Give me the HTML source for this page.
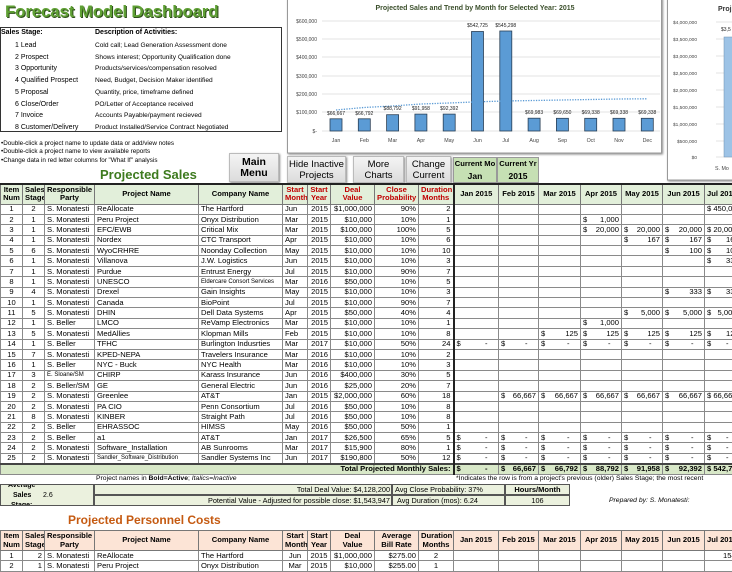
<!DOCTYPE html>
<html><head><meta charset="utf-8">
<style>
*{margin:0;padding:0;box-sizing:border-box}
body{width:732px;height:567px;overflow:hidden;background:#fff;position:relative;font-family:"Liberation Sans",sans-serif;color:#000}
.a{position:absolute;white-space:nowrap}
table{border-collapse:collapse;table-layout:fixed;position:absolute;font-size:7.6px}
td{border:1px solid #8a8a8a;padding:0 2px;overflow:hidden;white-space:nowrap;height:10.4px;line-height:8px}
td.c{text-align:center}td.r{text-align:right}
td u{float:left;text-decoration:none}
td.m{text-align:right}
tr.h td{background:#e2efda;font-weight:bold;text-align:center;height:20px;line-height:8.5px;border-color:#777}
tr.h td.red{color:#c00000}
.thick{border-right:2px solid #222!important}
.btn{position:absolute;background:linear-gradient(#f4f4f4,#dcdcdc);border:1px solid #bbb;box-shadow:1px 1px 2px #888;text-align:center;font-size:9.5px;line-height:11px;display:flex;align-items:center;justify-content:center;white-space:nowrap}
.sm{font-size:7px;line-height:8px}
</style></head><body>

<div class="a" style="left:5px;top:2px;font-size:17px;font-weight:bold;color:#5fa034;text-shadow:1px 1px 0 #2d4d1a;letter-spacing:-0.2px">Forecast Model Dashboard</div>

<div class="a" style="left:0;top:27px;width:282px;height:105px;border:1px solid #333"></div>
<div class="a sm" style="left:1px;top:29px;font-weight:bold">Sales Stage:</div>
<div class="a sm" style="left:95px;top:29px;font-weight:bold">Description of Activities:</div>
<div class="a sm" style="left:15px;top:40px;line-height:11.7px">1 Lead<br>2 Prospect<br>3 Opportunity<br>4 Qualified Prospect<br>5 Proposal<br>6 Close/Order<br>7 Invoice<br>8 Customer/Delivery</div>
<div class="a sm" style="left:95px;top:40px;line-height:11.7px;font-size:6.6px">Cold call; Lead Generation Assessment done<br>Shows interest; Opportunity Qualification done<br>Products/services/compensation resolved<br>Need, Budget, Decision Maker identified<br>Quantity, price, timeframe defined<br>PO/Letter of Acceptance received<br>Accounts Payable/payment recieved<br>Product Installed/Service Contract Negotiated</div>
<div class="a" style="left:1px;top:140px;font-size:6.3px;line-height:8.3px">•Double-click a project name to update data or add/view notes<br>•Double-click a project name to view available reports<br>•Change data in red letter columns for "What If" analysis</div>
<div class="a" style="left:100px;top:167px;font-size:13px;font-weight:bold;color:#3d7a1e">Projected Sales</div>

<div class="btn" style="left:229px;top:153px;width:50px;height:29px;font-weight:bold;font-size:10.5px">Main<br>Menu</div>
<div class="btn" style="left:287px;top:156px;width:59px;height:27px">Hide Inactive<br>Projects</div>
<div class="btn" style="left:353px;top:156px;width:51px;height:27px">More<br>Charts</div>
<div class="btn" style="left:406px;top:156px;width:45px;height:27px">Change<br>Current</div>
<div class="a" style="left:453px;top:157px;width:44px;height:26px;background:#c6e0b4;border:1px solid #999;text-align:center;font-weight:bold;font-size:7.6px;line-height:12px">Current Mo<br><span style="font-size:8.5px">Jan</span></div>
<div class="a" style="left:497px;top:157px;width:42px;height:26px;background:#c6e0b4;border:1px solid #999;text-align:center;font-weight:bold;font-size:7.6px;line-height:12px">Current Yr<br><span style="font-size:8.5px">2015</span></div>

<svg class="a" style="left:0;top:0" width="732" height="190" font-family="Liberation Sans, sans-serif">
<rect x="287.5" y="-2" width="374" height="155" fill="#fff" stroke="#999" style="filter:drop-shadow(1px 1px 1px #888)"/>
<text x="475" y="10" font-size="7" font-weight="bold" fill="#3b4f2b" text-anchor="middle">Projected Sales and Trend by Month for Selected Year: 2015</text>
<g stroke="#e3e3e3" stroke-width="1">
<line x1="322" x2="660" y1="21" y2="21"/><line x1="322" x2="660" y1="39" y2="39"/><line x1="322" x2="660" y1="57" y2="57"/><line x1="322" x2="660" y1="76" y2="76"/><line x1="322" x2="660" y1="94" y2="94"/><line x1="322" x2="660" y1="112" y2="112"/><line x1="322" x2="660" y1="131" y2="131"/></g>
<g font-size="5" fill="#444" text-anchor="end">
<text x="317" y="23">$600,000</text><text x="317" y="41">$500,000</text><text x="317" y="59">$400,000</text><text x="317" y="78">$300,000</text><text x="317" y="96">$200,000</text><text x="317" y="114">$100,000</text><text x="317" y="133">$-</text></g>
<g fill="#5b9bd5" stroke="#2a3f55" stroke-width="0.8">
<rect x="330" y="118.8" width="12" height="12.2"/><rect x="358.3" y="118.8" width="12" height="12.2"/><rect x="386.6" y="114.7" width="12" height="16.3"/><rect x="414.9" y="114.1" width="12" height="16.9"/><rect x="443.2" y="114.1" width="12" height="16.9"/><rect x="471.5" y="31.5" width="12" height="99.5"/><rect x="499.8" y="31" width="12" height="100"/><rect x="528.1" y="118.2" width="12" height="12.8"/><rect x="556.4" y="118.3" width="12" height="12.7"/><rect x="584.7" y="118.3" width="12" height="12.7"/><rect x="613" y="118.3" width="12" height="12.7"/><rect x="641.3" y="118.3" width="12" height="12.7"/></g>
<polyline points="336,110 364,107.5 392,106 421,104 449,103 478,101.8 506,101 534,100.5 562,100 591,99.5 619,99 647,98.8" fill="none" stroke="#5b9bd5" stroke-width="1.3" stroke-dasharray="1.3,1.3"/>
<g font-size="5" fill="#222" text-anchor="middle">
<text x="336" y="115">$66,667</text><text x="364.3" y="115">$66,792</text><text x="392.6" y="110">$88,792</text><text x="420.9" y="110">$91,958</text><text x="449.2" y="110">$92,392</text><text x="477.5" y="27">$542,725</text><text x="505.8" y="27">$545,298</text><text x="534.1" y="114">$69,983</text><text x="562.4" y="114">$69,650</text><text x="590.7" y="114">$69,338</text><text x="619" y="114">$69,338</text><text x="647.3" y="114">$69,338</text></g>
<g font-size="5.3" fill="#444" text-anchor="middle">
<text x="336" y="142">Jan</text><text x="364.3" y="142">Feb</text><text x="392.6" y="142">Mar</text><text x="420.9" y="142">Apr</text><text x="449.2" y="142">May</text><text x="477.5" y="142">Jun</text><text x="505.8" y="142">Jul</text><text x="534.1" y="142">Aug</text><text x="562.4" y="142">Sep</text><text x="590.7" y="142">Oct</text><text x="619" y="142">Nov</text><text x="647.3" y="142">Dec</text></g>

<rect x="667.5" y="-2" width="80" height="182" fill="#fff" stroke="#999" style="filter:drop-shadow(1px 1px 1px #888)"/>
<text x="718" y="11" font-size="7" font-weight="bold" fill="#333">Proj</text>
<g stroke="#e3e3e3"><line x1="716" x2="732" y1="22" y2="22"/><line x1="716" x2="732" y1="39" y2="39"/><line x1="716" x2="732" y1="56" y2="56"/><line x1="716" x2="732" y1="73" y2="73"/><line x1="716" x2="732" y1="90" y2="90"/><line x1="716" x2="732" y1="107" y2="107"/><line x1="716" x2="732" y1="124" y2="124"/><line x1="716" x2="732" y1="141" y2="141"/><line x1="716" x2="732" y1="157" y2="157"/></g>
<g font-size="4.8" fill="#444" text-anchor="end">
<text x="697" y="24">$4,000,000</text><text x="697" y="41">$3,500,000</text><text x="697" y="58">$3,000,000</text><text x="697" y="75">$2,500,000</text><text x="697" y="92">$2,000,000</text><text x="697" y="109">$1,500,000</text><text x="697" y="126">$1,000,000</text><text x="697" y="143">$500,000</text><text x="697" y="159">$0</text></g>
<rect x="724" y="37" width="12" height="120" fill="#9dc3e6" stroke="#6f8fb0" stroke-width="0.5"/>
<text x="721" y="31" font-size="5" fill="#222">$3,5</text>
<text x="715" y="170" font-size="5.3" fill="#444">S. Mo</text>
</svg>

<table style="left:0;top:183px;width:772px;border-top:2px solid #222">
<colgroup><col style="width:22px"><col style="width:22px"><col style="width:50px"><col style="width:104px"><col style="width:84px"><col style="width:25px"><col style="width:23px"><col style="width:44px"><col style="width:44px"><col style="width:35px"><col style="width:45px"><col style="width:40px"><col style="width:42px"><col style="width:41px"><col style="width:41px"><col style="width:42px"><col style="width:70px"></colgroup>
<tr class="h"><td>Item<br>Num</td><td>Sales<br>Stage</td><td>Responsible<br>Party</td><td>Project Name</td><td>Company Name</td><td class="red">Start<br>Month</td><td class="red">Start<br>Year</td><td class="red">Deal<br>Value</td><td class="red">Close<br>Probability</td><td class="red thick">Duration<br>Months</td><td>Jan 2015</td><td>Feb 2015</td><td>Mar 2015</td><td>Apr 2015</td><td>May 2015</td><td>Jun 2015</td><td style="text-align:left">Jul 2015</td></tr>
<tr><td class="c">1</td><td class="c">2</td><td>S. Monatesti</td><td>ReAllocate</td><td>The Hartford</td><td>Jun</td><td class="r">2015</td><td class="r">$1,000,000</td><td class="r">90%</td><td class="r thick">2</td><td></td><td></td><td></td><td></td><td></td><td></td><td>$ 450,000</td></tr>
<tr><td class="c">2</td><td class="c">1</td><td>S. Monatesti</td><td>Peru Project</td><td>Onyx Distribution</td><td>Mar</td><td class="r">2015</td><td class="r">$10,000</td><td class="r">10%</td><td class="r thick">1</td><td></td><td></td><td></td><td class="m"><u>$</u>1,000</td><td></td><td></td><td></td></tr>
<tr><td class="c">3</td><td class="c">1</td><td>S. Monatesti</td><td>EFC/EWB</td><td>Critical Mix</td><td>Mar</td><td class="r">2015</td><td class="r">$100,000</td><td class="r">100%</td><td class="r thick">5</td><td></td><td></td><td></td><td class="m"><u>$</u>20,000</td><td class="m"><u>$</u>20,000</td><td class="m"><u>$</u>20,000</td><td>$ 20,000</td></tr>
<tr><td class="c">4</td><td class="c">1</td><td>S. Monatesti</td><td>Nordex</td><td>CTC Transport</td><td>Apr</td><td class="r">2015</td><td class="r">$10,000</td><td class="r">10%</td><td class="r thick">6</td><td></td><td></td><td></td><td></td><td class="m"><u>$</u>167</td><td class="m"><u>$</u>167</td><td>$&nbsp;&nbsp;&nbsp;&nbsp;&nbsp;&nbsp;&nbsp;167</td></tr>
<tr><td class="c">5</td><td class="c">6</td><td>S. Monatesti</td><td>WyoCRHRE</td><td>Noonday Collection</td><td>May</td><td class="r">2015</td><td class="r">$10,000</td><td class="r">10%</td><td class="r thick">10</td><td></td><td></td><td></td><td></td><td></td><td class="m"><u>$</u>100</td><td>$&nbsp;&nbsp;&nbsp;&nbsp;&nbsp;&nbsp;&nbsp;100</td></tr>
<tr><td class="c">6</td><td class="c">1</td><td>S. Monatesti</td><td>Villanova</td><td>J.W. Logistics</td><td>Jun</td><td class="r">2015</td><td class="r">$10,000</td><td class="r">10%</td><td class="r thick">3</td><td></td><td></td><td></td><td></td><td></td><td></td><td>$&nbsp;&nbsp;&nbsp;&nbsp;&nbsp;&nbsp;&nbsp;333</td></tr>
<tr><td class="c">7</td><td class="c">1</td><td>S. Monatesti</td><td>Purdue</td><td>Entrust Energy</td><td>Jul</td><td class="r">2015</td><td class="r">$10,000</td><td class="r">90%</td><td class="r thick">7</td><td></td><td></td><td></td><td></td><td></td><td></td><td></td></tr>
<tr><td class="c">8</td><td class="c">1</td><td>S. Monatesti</td><td>UNESCO</td><td style="font-size:6px">Eldercare Consort Services</td><td>Mar</td><td class="r">2016</td><td class="r">$50,000</td><td class="r">10%</td><td class="r thick">5</td><td></td><td></td><td></td><td></td><td></td><td></td><td></td></tr>
<tr><td class="c">9</td><td class="c">4</td><td>S. Monatesti</td><td>Drexel</td><td>Gain Insights</td><td>May</td><td class="r">2015</td><td class="r">$10,000</td><td class="r">10%</td><td class="r thick">3</td><td></td><td></td><td></td><td></td><td></td><td class="m"><u>$</u>333</td><td>$&nbsp;&nbsp;&nbsp;&nbsp;&nbsp;&nbsp;&nbsp;333</td></tr>
<tr><td class="c">10</td><td class="c">1</td><td>S. Monatesti</td><td>Canada</td><td>BioPoint</td><td>Jul</td><td class="r">2015</td><td class="r">$10,000</td><td class="r">90%</td><td class="r thick">7</td><td></td><td></td><td></td><td></td><td></td><td></td><td></td></tr>
<tr><td class="c">11</td><td class="c">5</td><td>S. Monatesti</td><td>DHIN</td><td>Dell Data Systems</td><td>Apr</td><td class="r">2015</td><td class="r">$50,000</td><td class="r">40%</td><td class="r thick">4</td><td></td><td></td><td></td><td></td><td class="m"><u>$</u>5,000</td><td class="m"><u>$</u>5,000</td><td>$&nbsp;&nbsp;&nbsp;5,000</td></tr>
<tr><td class="c">12</td><td class="c">1</td><td>S. Beller</td><td>LMCO</td><td>ReVamp Electronics</td><td>Mar</td><td class="r">2015</td><td class="r">$10,000</td><td class="r">10%</td><td class="r thick">1</td><td></td><td></td><td></td><td class="m"><u>$</u>1,000</td><td></td><td></td><td></td></tr>
<tr><td class="c">13</td><td class="c">5</td><td>S. Monatesti</td><td>MedAllies</td><td>Klopman Mills</td><td>Feb</td><td class="r">2015</td><td class="r">$10,000</td><td class="r">10%</td><td class="r thick">8</td><td></td><td></td><td class="m"><u>$</u>125</td><td class="m"><u>$</u>125</td><td class="m"><u>$</u>125</td><td class="m"><u>$</u>125</td><td>$&nbsp;&nbsp;&nbsp;&nbsp;&nbsp;&nbsp;&nbsp;125</td></tr>
<tr><td class="c">14</td><td class="c">1</td><td>S. Beller</td><td>TFHC</td><td>Burlington Indusrties</td><td>Mar</td><td class="r">2017</td><td class="r">$10,000</td><td class="r">50%</td><td class="r thick">24</td><td class="m"><u>$</u>-&nbsp;&nbsp;&nbsp;&nbsp;</td><td class="m"><u>$</u>-&nbsp;&nbsp;&nbsp;&nbsp;</td><td class="m"><u>$</u>-&nbsp;&nbsp;&nbsp;&nbsp;</td><td class="m"><u>$</u>-&nbsp;&nbsp;&nbsp;&nbsp;</td><td class="m"><u>$</u>-&nbsp;&nbsp;&nbsp;&nbsp;</td><td class="m"><u>$</u>-&nbsp;&nbsp;&nbsp;&nbsp;</td><td>$&nbsp;&nbsp;&nbsp;&nbsp;&nbsp;&nbsp;&nbsp;-</td></tr>
<tr><td class="c">15</td><td class="c">7</td><td>S. Monatesti</td><td>KPED-NEPA</td><td>Travelers Insurance</td><td>Mar</td><td class="r">2016</td><td class="r">$10,000</td><td class="r">10%</td><td class="r thick">2</td><td></td><td></td><td></td><td></td><td></td><td></td><td></td></tr>
<tr><td class="c">16</td><td class="c">1</td><td>S. Beller</td><td>NYC - Buck</td><td>NYC Health</td><td>Mar</td><td class="r">2016</td><td class="r">$10,000</td><td class="r">10%</td><td class="r thick">3</td><td></td><td></td><td></td><td></td><td></td><td></td><td></td></tr>
<tr><td class="c">17</td><td class="c">3</td><td style="font-size:6px">E. Sloane/SM</td><td>CHIRP</td><td>Karass Insurance</td><td>Jun</td><td class="r">2016</td><td class="r">$400,000</td><td class="r">30%</td><td class="r thick">5</td><td></td><td></td><td></td><td></td><td></td><td></td><td></td></tr>
<tr><td class="c">18</td><td class="c">2</td><td>S. Beller/SM</td><td>GE</td><td>General Electric</td><td>Jun</td><td class="r">2016</td><td class="r">$25,000</td><td class="r">20%</td><td class="r thick">7</td><td></td><td></td><td></td><td></td><td></td><td></td><td></td></tr>
<tr><td class="c">19</td><td class="c">2</td><td>S. Monatesti</td><td>Greenlee</td><td>AT&amp;T</td><td>Jan</td><td class="r">2015</td><td class="r">$2,000,000</td><td class="r">60%</td><td class="r thick">18</td><td></td><td class="m"><u>$</u>66,667</td><td class="m"><u>$</u>66,667</td><td class="m"><u>$</u>66,667</td><td class="m"><u>$</u>66,667</td><td class="m"><u>$</u>66,667</td><td>$ 66,667</td></tr>
<tr><td class="c">20</td><td class="c">2</td><td>S. Monatesti</td><td>PA CIO</td><td>Penn Consortium</td><td>Jul</td><td class="r">2016</td><td class="r">$50,000</td><td class="r">10%</td><td class="r thick">8</td><td></td><td></td><td></td><td></td><td></td><td></td><td></td></tr>
<tr><td class="c">21</td><td class="c">8</td><td>S. Monatesti</td><td>KINBER</td><td>Straight Path</td><td>Jul</td><td class="r">2016</td><td class="r">$50,000</td><td class="r">10%</td><td class="r thick">8</td><td></td><td></td><td></td><td></td><td></td><td></td><td></td></tr>
<tr><td class="c">22</td><td class="c">2</td><td>S. Beller</td><td>EHRASSOC</td><td>HIMSS</td><td>May</td><td class="r">2016</td><td class="r">$50,000</td><td class="r">50%</td><td class="r thick">1</td><td></td><td></td><td></td><td></td><td></td><td></td><td></td></tr>
<tr><td class="c">23</td><td class="c">2</td><td>S. Beller</td><td>a1</td><td>AT&amp;T</td><td>Jan</td><td class="r">2017</td><td class="r">$26,500</td><td class="r">65%</td><td class="r thick">5</td><td class="m"><u>$</u>-&nbsp;&nbsp;&nbsp;&nbsp;</td><td class="m"><u>$</u>-&nbsp;&nbsp;&nbsp;&nbsp;</td><td class="m"><u>$</u>-&nbsp;&nbsp;&nbsp;&nbsp;</td><td class="m"><u>$</u>-&nbsp;&nbsp;&nbsp;&nbsp;</td><td class="m"><u>$</u>-&nbsp;&nbsp;&nbsp;&nbsp;</td><td class="m"><u>$</u>-&nbsp;&nbsp;&nbsp;&nbsp;</td><td>$&nbsp;&nbsp;&nbsp;&nbsp;&nbsp;&nbsp;&nbsp;-</td></tr>
<tr><td class="c">24</td><td class="c">2</td><td>S. Monatesti</td><td>Software_Installation</td><td>AB Sunrooms</td><td>Mar</td><td class="r">2017</td><td class="r">$15,900</td><td class="r">80%</td><td class="r thick">1</td><td class="m"><u>$</u>-&nbsp;&nbsp;&nbsp;&nbsp;</td><td class="m"><u>$</u>-&nbsp;&nbsp;&nbsp;&nbsp;</td><td class="m"><u>$</u>-&nbsp;&nbsp;&nbsp;&nbsp;</td><td class="m"><u>$</u>-&nbsp;&nbsp;&nbsp;&nbsp;</td><td class="m"><u>$</u>-&nbsp;&nbsp;&nbsp;&nbsp;</td><td class="m"><u>$</u>-&nbsp;&nbsp;&nbsp;&nbsp;</td><td>$&nbsp;&nbsp;&nbsp;&nbsp;&nbsp;&nbsp;&nbsp;-</td></tr>
<tr><td class="c">25</td><td class="c">2</td><td>S. Monatesti</td><td style="font-size:6px">Sandler_Software_Distribution</td><td>Sandler Systems Inc</td><td>Jun</td><td class="r">2017</td><td class="r">$190,800</td><td class="r">50%</td><td class="r thick">12</td><td class="m"><u>$</u>-&nbsp;&nbsp;&nbsp;&nbsp;</td><td class="m"><u>$</u>-&nbsp;&nbsp;&nbsp;&nbsp;</td><td class="m"><u>$</u>-&nbsp;&nbsp;&nbsp;&nbsp;</td><td class="m"><u>$</u>-&nbsp;&nbsp;&nbsp;&nbsp;</td><td class="m"><u>$</u>-&nbsp;&nbsp;&nbsp;&nbsp;</td><td class="m"><u>$</u>-&nbsp;&nbsp;&nbsp;&nbsp;</td><td>$&nbsp;&nbsp;&nbsp;&nbsp;&nbsp;&nbsp;&nbsp;-</td></tr>
<tr style="background:#d8e8c8;font-weight:bold"><td colspan="10" class="r thick" style="border-top:2px solid #444">Total Projected Monthly Sales:</td><td class="m" style="border-top:2px solid #444"><u>$</u>-&nbsp;&nbsp;&nbsp;&nbsp;</td><td class="m" style="border-top:2px solid #444"><u>$</u>66,667</td><td class="m" style="border-top:2px solid #444"><u>$</u>66,792</td><td class="m" style="border-top:2px solid #444"><u>$</u>88,792</td><td class="m" style="border-top:2px solid #444"><u>$</u>91,958</td><td class="m" style="border-top:2px solid #444"><u>$</u>92,392</td><td style="border-top:2px solid #444">$ 542,725</td></tr>
</table>

<div class="a" style="left:96px;top:475px;font-size:6.8px">Project names in <b>Bold=Active</b>; <i>Italics=Inactive</i></div>
<div class="a" style="left:456px;top:475px;font-size:6.8px">*Indicates the row is from a project's previous (older) Sales Stage; the most recent</div>

<div class="a" style="left:0;top:484px;width:94px;height:22px;background:#ebf1de;border:1px solid #555;font-size:7px;font-weight:bold;line-height:7.5px;padding-left:6px;overflow:hidden"><span style="position:absolute;left:7px;top:-3px">Average</span><span style="position:absolute;left:12px;top:7px">Sales</span><span style="position:absolute;left:42px;top:7px;font-weight:normal">2.6</span><span style="position:absolute;left:10px;top:17px">Stage:</span></div>
<div class="a" style="left:94px;top:484px;width:298px;height:11px;background:#ebf1de;border:1px solid #555;font-size:7.3px;text-align:right;padding-right:1px;line-height:9px">Total Deal Value: $4,128,200</div>
<div class="a" style="left:94px;top:495px;width:298px;height:11px;background:#ebf1de;border:1px solid #555;font-size:7.3px;text-align:right;padding-right:1px;line-height:9px">Potential Value - Adjusted for possible close: $1,543,947</div>
<div class="a" style="left:392px;top:484px;width:113px;height:11px;background:#ebf1de;border:1px solid #555;font-size:7.3px;line-height:9px;padding-left:2px">Avg Close Probability: 37%</div>
<div class="a" style="left:392px;top:495px;width:113px;height:11px;background:#ebf1de;border:1px solid #555;font-size:7.3px;line-height:9px;padding-left:4px">Avg Duration (mos): 6.24</div>
<div class="a" style="left:505px;top:484px;width:65px;height:11px;background:#ebf1de;border:1px solid #555;font-size:7.5px;font-weight:bold;line-height:9px;text-align:center">Hours/Month</div>
<div class="a" style="left:505px;top:495px;width:65px;height:11px;background:#ebf1de;border:1px solid #555;font-size:7.3px;line-height:9px;text-align:center">106</div>
<div class="a" style="left:609px;top:497px;font-size:6.8px;font-style:italic">Prepared by: S. Monatesti:</div>

<div class="a" style="left:68px;top:513px;font-size:12px;font-weight:bold;color:#c55a11">Projected Personnel Costs</div>

<table style="left:0;top:530px;width:772px">
<colgroup><col style="width:22px"><col style="width:22px"><col style="width:50px"><col style="width:104px"><col style="width:84px"><col style="width:25px"><col style="width:23px"><col style="width:44px"><col style="width:44px"><col style="width:35px"><col style="width:45px"><col style="width:40px"><col style="width:42px"><col style="width:41px"><col style="width:41px"><col style="width:42px"><col style="width:70px"></colgroup>
<tr class="h"><td style="background:#fce4d6">Item<br>Num</td><td style="background:#fce4d6">Sales<br>Stage</td><td style="background:#fce4d6">Responsible<br>Party</td><td style="background:#fce4d6">Project Name</td><td style="background:#fce4d6">Company Name</td><td style="background:#fce4d6">Start<br>Month</td><td style="background:#fce4d6">Start<br>Year</td><td style="background:#fce4d6">Deal<br>Value</td><td style="background:#fce4d6">Average<br>Bill Rate</td><td style="background:#fce4d6">Duration<br>Months</td><td style="background:#fce4d6">Jan 2015</td><td style="background:#fce4d6">Feb 2015</td><td style="background:#fce4d6">Mar 2015</td><td style="background:#fce4d6">Apr 2015</td><td style="background:#fce4d6">May 2015</td><td style="background:#fce4d6">Jun 2015</td><td style="background:#fce4d6;text-align:left">Jul 2015</td></tr>
<tr><td class="c">1</td><td class="r">2</td><td>S. Monatesti</td><td>ReAllocate</td><td>The Hartford</td><td class="c">Jun</td><td class="c">2015</td><td class="r">$1,000,000</td><td class="r">$275.00</td><td class="c">2</td><td></td><td></td><td></td><td></td><td></td><td></td><td style="padding-left:18px">154</td></tr>
<tr><td class="c">2</td><td class="r">1</td><td>S. Monatesti</td><td>Peru Project</td><td>Onyx Distribution</td><td class="c">Mar</td><td class="c">2015</td><td class="r">$10,000</td><td class="r">$255.00</td><td class="c">1</td><td></td><td></td><td></td><td></td><td></td><td></td><td></td></tr>
</table>
</body></html>
